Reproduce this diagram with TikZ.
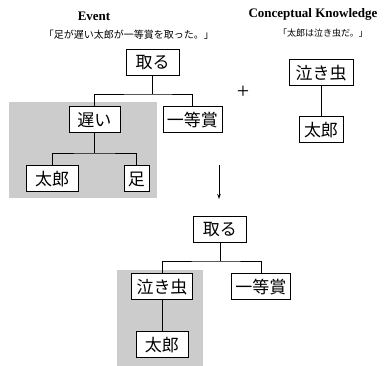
\documentclass[tikz,border=0pt]{standalone}
\usepackage{fontspec}
\setmainfont{Liberation Serif}
\newfontfamily\jp{Noto Sans CJK JP}
\usetikzlibrary{arrows.meta}
\tikzset{
  wbox/.style={draw=black, line width=1pt, fill=white, inner sep=0pt, font=\jp\fontsize{17}{17}\selectfont, minimum height=26pt},
  grayarea/.style={fill=gray!40, draw=none},
  conn/.style={draw=black, line width=0.9pt},
  title/.style={font=\bfseries\fontsize{13}{13}\selectfont, inner sep=0pt},
  quote/.style={font=\jp\fontsize{10}{10}\selectfont, inner sep=0pt}
}
\begin{document}
\begin{tikzpicture}[x=1pt,y=-1pt]
\useasboundingbox (0,0) rectangle (384,366);
% titles
\node[title] (ev) at (94,16) {Event};
\node[quote] (q1) at (129,35) {「足が遅い太郎が一等賞を取った。」};
\node[title] (ck) at (313,14) {Conceptual Knowledge};
\node[quote, font=\jp\fontsize{9}{9}\selectfont] (q2) at (323,33) {「太郎は泣き虫だ。」};
% top tree
\fill[grayarea] (9,102) rectangle (157,198);
\node[wbox, minimum width=53pt] (toru1) at (152.5,63) {取る};
\node[wbox, minimum width=51pt] (osoi) at (94.5,120) {遅い};
\node[wbox, minimum width=59pt] (itto1) at (192.5,120) {一等賞};
\node[wbox, minimum width=52pt] (taro1) at (52,179) {太郎};
\node[wbox, minimum width=25pt] (ashi) at (136.5,179) {足};
\coordinate (b1) at (152.5,94);
\coordinate (b2) at (94.5,153);
\draw[conn] (toru1.south) -- (b1);
\draw[conn] (osoi.north) |- (b1) -| (itto1.north);
\draw[conn] (osoi.south) -- (b2);
\draw[conn] (taro1.north) |- (b2) -| (ashi.north);
% conceptual knowledge
\node[wbox, minimum width=64pt] (naki1) at (321,73) {泣き虫};
\node[wbox, minimum width=44pt] (taro2) at (321,130) {太郎};
\draw[conn] (naki1.south) -- (taro2.north);
% plus
\node[font=\fontsize{22}{22}\selectfont, inner sep=0pt] (plus) at (243,92) {+};
% arrow
\coordinate (a1) at (219,165);
\coordinate (a2) at (219,199);
\draw[conn, -{Stealth[length=5pt,width=3.5pt]}] (a1) -- (a2);
% bottom tree
\fill[grayarea] (117,270) rectangle (203,366);
\node[wbox, minimum width=53pt] (toru2) at (220,230) {取る};
\node[wbox, minimum width=61pt] (naki2) at (162,287) {泣き虫};
\node[wbox, minimum width=59pt] (itto2) at (261,287) {一等賞};
\node[wbox, minimum width=52pt] (taro3) at (162,345) {太郎};
\coordinate (b3) at (220,261);
\draw[conn] (toru2.south) -- (b3);
\draw[conn] (naki2.north) |- (b3) -| (itto2.north);
\draw[conn] (naki2.south) -- (taro3.north);
\end{tikzpicture}
\end{document}
